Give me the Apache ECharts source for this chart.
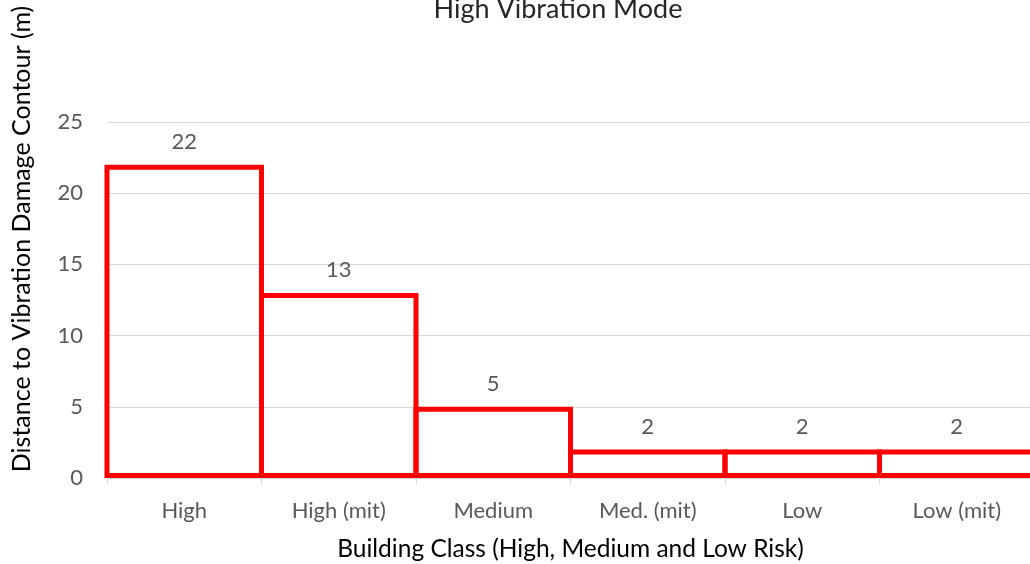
<!DOCTYPE html>
<html>
<head>
<meta charset="utf-8">
<script src="https://cdn.jsdelivr.net/npm/echarts@6/dist/echarts.min.js"></script>
<style>
  html, body { margin: 0; padding: 0; background: #fff; }
  #chart { width: 1030px; height: 564px; }
</style>
</head>
<body>
<div id="chart"></div>
<script>
// Building classes and the distance to the vibration damage contour (m)
const categories = ['High', 'High (mit)', 'Medium', 'Med. (mit)', 'Low', 'Low (mit)'];
const distances = [22, 13, 5, 2, 2, 2];
const yTicks = { min: 0, max: 25, interval: 5 };

const FONT = 'Lato, "Open Sans", sans-serif';
const GRID = { left: 107, right: -4, top: 122, bottom: 86 };
const CHART_W = 1030;
const BORDER = 5;
// ECharts insets a bar's border by half its width; widen each bar by the
// border so neighbouring outlines meet on one shared line.
const bandWidth = (CHART_W - GRID.left - GRID.right) / categories.length;

const chart = echarts.init(document.getElementById('chart'), null, { renderer: 'canvas' });

chart.setOption({
  animation: false,
  backgroundColor: '#ffffff',
  textStyle: { fontFamily: FONT },
  title: {
    text: 'High Vibration Mode',
    left: 553,
    textAlign: 'center',
    top: -9,
    textStyle: { fontFamily: FONT, fontSize: 27, fontWeight: 'normal', color: '#262626' }
  },
  grid: {
    left: GRID.left, right: GRID.right, top: GRID.top, bottom: GRID.bottom,
    containLabel: false,
    outerBoundsMode: 'none'
  },
  xAxis: {
    type: 'category',
    data: categories,
    boundaryGap: true,
    name: 'Building Class (High, Medium and Low Risk)',
    nameLocation: 'middle',
    nameGap: 59,
    nameMoveOverlap: false,
    nameTextStyle: { fontFamily: FONT, fontSize: 24.5, color: '#000000' },
    axisLine: { show: true, lineStyle: { color: '#d9d9d9', width: 1 } },
    axisTick: { show: true, length: 6, lineStyle: { color: '#d9d9d9' } },
    axisLabel: { margin: 22, fontFamily: FONT, fontSize: 22, color: '#595959' },
    splitLine: { show: false }
  },
  yAxis: {
    type: 'value',
    min: yTicks.min,
    max: yTicks.max,
    interval: yTicks.interval,
    axisLine: { show: false },
    axisTick: { show: false },
    axisLabel: { margin: 24, fontFamily: FONT, fontSize: 22, color: '#595959' },
    splitLine: { show: true, lineStyle: { color: '#d9d9d9', width: 1 } }
  },
  graphic: [{
    type: 'text',
    x: 22,
    y: 239,
    rotation: Math.PI / 2,
    style: {
      text: 'Distance to Vibration Damage Contour (m)',
      fontFamily: FONT,
      fontSize: 25,
      fill: '#000000',
      align: 'center',
      verticalAlign: 'middle'
    }
  }],
  series: [{
    type: 'bar',
    data: distances,
    barWidth: bandWidth + BORDER,
    barGap: '-100%',
    itemStyle: { color: 'rgba(255,255,255,0)', borderColor: '#ff0000', borderWidth: BORDER },
    label: {
      show: true,
      position: 'top',
      distance: 12,
      fontFamily: FONT,
      fontSize: 22,
      color: '#595959'
    }
  }]
});
</script>
</body>
</html>
